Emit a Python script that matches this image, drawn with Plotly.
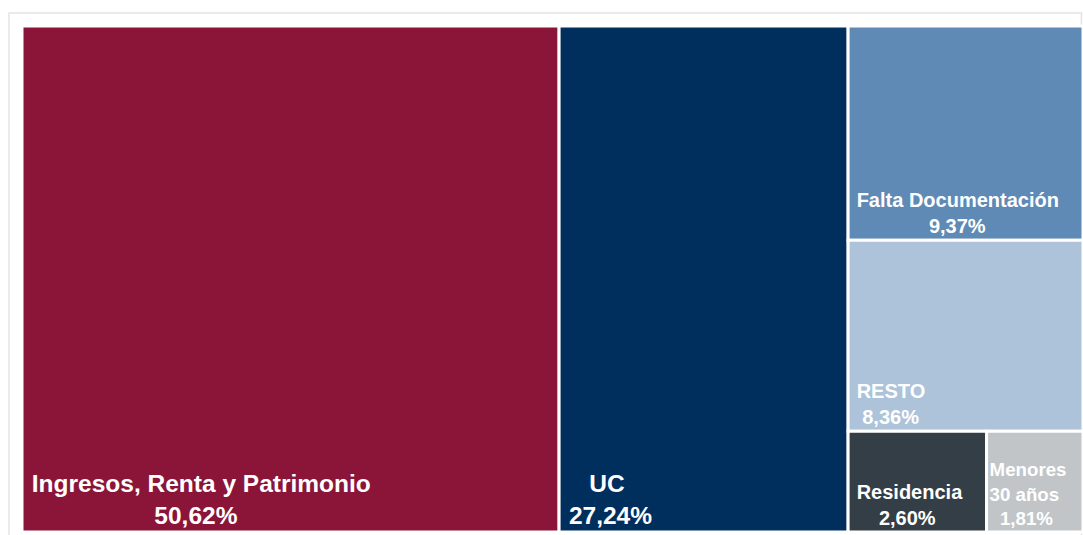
import plotly.graph_objects as go

labels = ["Ingresos, Renta y Patrimonio", "UC", "Falta Documentación", "RESTO", "Residencia", "Menores 30 años"]
values = [50.62, 27.24, 9.37, 8.36, 2.60, 1.81]
pct_text = ["50,62%", "27,24%", "9,37%", "8,36%", "2,60%", "1,81%"]
colors = ["#8A1538", "#002F5E", "#5E8AB5", "#ADC3DA", "#343E47", "#C1C5C8"]
font_sizes = [24.5, 24.5, 20, 20, 20, 18.7]

# display text: lines centred among themselves (left-aligned block)
display = [
    " Ingresos, Renta y Patrimonio<br>" + " " * 19 + "50,62%",
    " " * 4 + "UC<br> 27,24%",
    " Falta Documentación<br>" + " " * 14 + "9,37%",
    " RESTO<br>  8,36%",
    " Residencia<br>" + " " * 5 + "2,60%",
    "Menores<br>30 años<br>  1,81%",
]

fig = go.Figure(go.Treemap(
    labels=labels,
    parents=[""] * len(labels),
    values=values,
    text=display,
    texttemplate="%{text}",
    textposition="bottom left",
    textfont=dict(family="Liberation Sans, Arial, sans-serif", color="white",
                  size=font_sizes, weight="bold"),
    marker=dict(colors=colors, line=dict(color="white", width=3),
                pad=dict(t=0, l=0, r=0, b=0)),
    tiling=dict(packing="squarify", squarifyratio=1, pad=0),
    pathbar=dict(visible=False),
    sort=True,
    hoverinfo="skip",
    root=dict(color="rgba(0,0,0,0)"),
))

fig.add_shape(type="rect", xref="paper", yref="paper",
              x0=-0.0123, x1=0.9985, y0=-0.02, y1=1.0257,
              line=dict(color="#E4E4E4", width=1.5), layer="below")

fig.update_layout(
    width=1083, height=535,
    margin=dict(l=22, r=0, t=26, b=3),
    paper_bgcolor="white", plot_bgcolor="white",
    showlegend=False,
)

fig.write_html(
    "out.html",
    config={"displayModeBar": False},
    post_script="document.body.style.margin='0';document.body.style.overflow='hidden';",
)
